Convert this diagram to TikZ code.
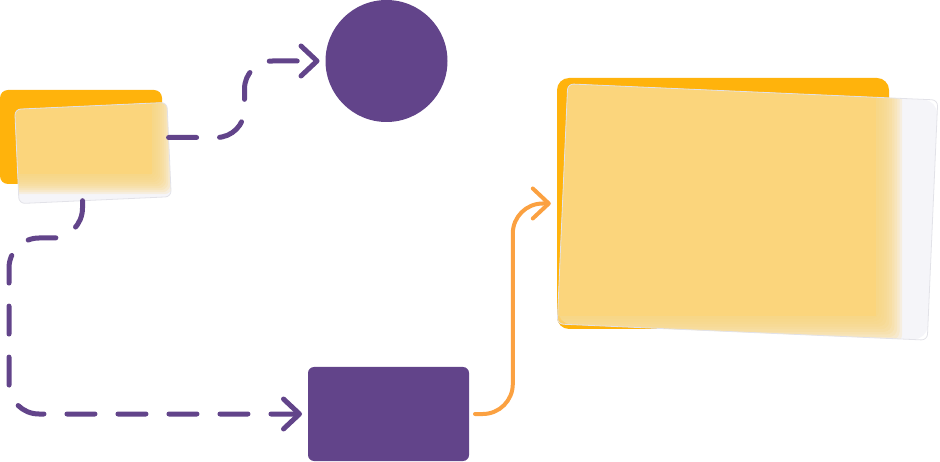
\documentclass[tikz,border=0pt]{standalone}
\usetikzlibrary{arrows.meta}
\definecolor{plum}{RGB}{98,68,138}
\definecolor{amber}{RGB}{255,179,12}
\definecolor{honey}{RGB}{251,213,124}
\definecolor{frost}{RGB}{245,245,249}
\definecolor{frostedge}{RGB}{226,226,232}
\definecolor{tangerine}{RGB}{251,161,65}
% frosted glass over a card: #1 glass, #2 card below, #3 blur
\newcommand{\honeyblur}[3]{%
\begin{scope}
\clip[rounded corners=6pt] (#1.north west) -- (#1.north east) -- (#1.south east) -- (#1.south west) -- cycle;
\fill[honey] ([shift={(-40pt,40pt)}]#2.north west) rectangle ([shift={(-#3pt,#3pt)}]#2.south east);
\foreach \i in {0,...,10}{
  \pgfmathsetmacro\d{(\i/5-1)*#3}
  \pgfmathsetmacro\e{-\d}
  \fill[honey, fill opacity=.2, rounded corners=8pt] ([shift={(-40pt,40pt)}]#2.north west) rectangle ([shift={(\d pt,\e pt)}]#2.south east);
}
\end{scope}
\draw[frostedge, line width=.8pt, rounded corners=6pt] (#1.north west) -- (#1.north east) -- (#1.south east) -- (#1.south west) -- cycle;}
\tikzset{
  card/.style={rectangle, inner sep=0pt, fill=amber},
  frostbox/.style={rectangle, inner sep=0pt, fill=frost},
  plumshape/.style={inner sep=0pt, fill=plum, outer sep=6pt},
  flow/.style={plum, line width=5pt, line cap=round, dash pattern=on 28pt off 23pt, -{Straight Barb[length=16pt,width=30pt,round]}},
  feed/.style={tangerine, line width=4pt, line cap=round, -{Straight Barb[length=16pt,width=30pt,round]}}
}
\begin{document}
\begin{tikzpicture}[x=1pt,y=-1pt]
\useasboundingbox (0,0) rectangle (940,462);
% small card
\node[card, minimum width=162pt, minimum height=94pt, rounded corners=8pt] (scard) at (81,137) {};
\node[frostbox, minimum width=152pt, minimum height=94pt, rounded corners=6pt, rotate=2.6] (sglass) at (93,153) {};
\honeyblur{sglass}{scard}{10}
% big card
\node[card, minimum width=332pt, minimum height=251pt, rounded corners=12pt] (bcard) at (723,203.5) {};
\node[frostbox, minimum width=370pt, minimum height=240pt, rounded corners=14pt, rotate=-2.5] (bglass) at (747.5,212) {};
\honeyblur{bglass}{bcard}{13}
% purple shapes
\node[plumshape, circle, minimum size=122pt] (dot) at (386.5,61) {};
\node[plumshape, rectangle, minimum width=161pt, minimum height=94pt, rounded corners=6pt] (box) at (388.5,414) {};
% connectors
\draw[flow, rounded corners=28pt] (sglass.9) -| ([xshift=-75pt]dot.west) -- (dot.west);
\draw[flow, rounded corners=30pt] (sglass.-105) |- (9,238) |- (box.west);
\draw[feed, rounded corners=30pt, shorten >=6pt] (box.east) -| ([xshift=-44pt]bcard.west) -- (bcard.west);
\end{tikzpicture}
\end{document}
